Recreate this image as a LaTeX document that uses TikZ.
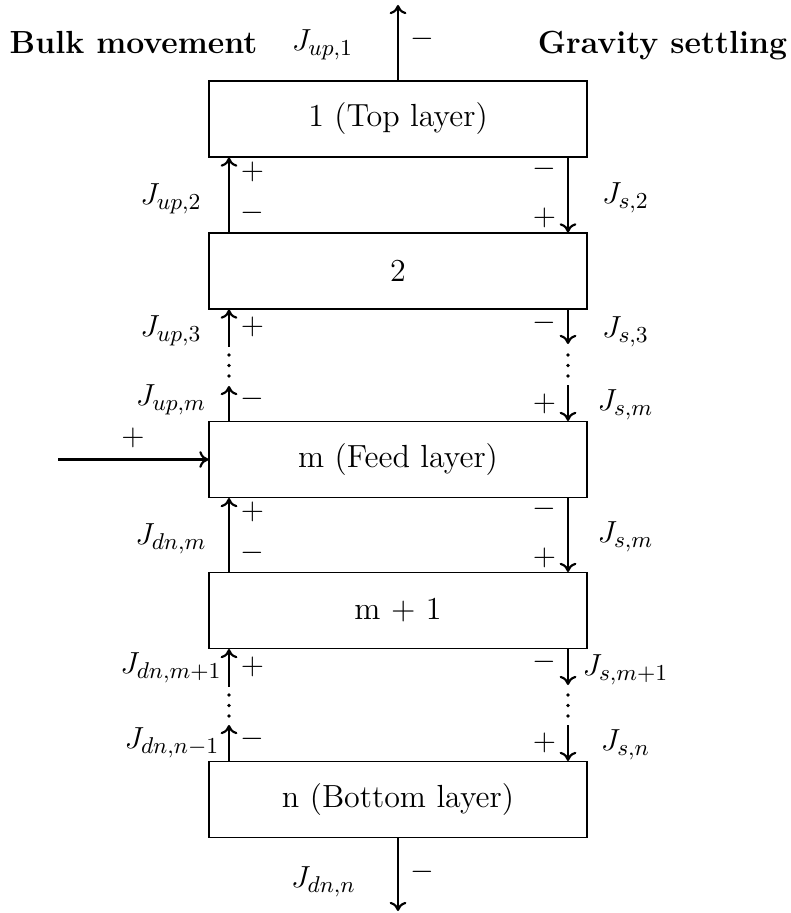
\documentclass[tikz,border=0pt,12pt]{standalone}
\usetikzlibrary{arrows.meta}
\begin{document}
\begin{tikzpicture}[x=0.3937pt,y=-0.3937pt,
  every node/.style={font=\fontsize{12.6}{15}\selectfont},
  layerbox/.style={draw,line width=0.45pt,minimum width=148.8pt,minimum height=29.9pt,inner sep=0pt},
  flow/.style={-{To[length=3.6pt,width=6.6pt]},line width=0.85pt},
  lab/.style={inner sep=0pt},
  title/.style={inner sep=0pt,anchor=base,font=\fontsize{12.6}{15}\selectfont\bfseries},
  dotsty/.style={fill=black}]
\useasboundingbox (0,0) rectangle (790,913);
% x guides
\coordinate (xl) at (229,0);
\coordinate (xr) at (568,0);
% boxes
\node[layerbox] (b1)  at (398,119)   {1 (Top layer)};
\node[layerbox] (b2)  at (398,271)   {2};
\node[layerbox] (bm)  at (398,459.5) {m (Feed layer)};
\node[layerbox] (bm1) at (398,610.5) {m + 1};
\node[layerbox] (bn)  at (398,799.5) {n (Bottom layer)};
% titles
\node[title] (tl) at (133.5,54) {Bulk movement};
\node[title] (tr) at (662.5,54) {Gravity settling};
% top and bottom
\coordinate (topend) at (398,5);
\coordinate (botend) at (398,911);
\draw[flow] (b1.north) -- (topend);
\draw[flow] (bn.south) -- (botend);
\node[lab] (jup1) at (322.5,45) {$J_{up,1}$};
\node[lab] (stop) at (422,39) {$-$};
\node[lab] (jdnn) at (323.5,882) {$J_{dn,n}$};
\node[lab] (sbot) at (422,872) {$-$};
% feed
\coordinate (feed) at (58,459.5);
\draw[flow] (feed) -- (bm.west);
\node[lab] (sfeed) at (133,438) {$+$};
% row 1
\draw[flow] (b2.north -| xl) -- (b1.south -| xl);
\draw[flow] (b1.south -| xr) -- (b2.north -| xr);
\node[lab] (jup2) at (171,199) {$J_{up,2}$};
\node[lab] (js2) at (625.5,198) {$J_{s,2}$};
\node[lab] (s1a) at (252.5,172) {$+$};
\node[lab] (s1b) at (252.5,213) {$-$};
\node[lab] (s1c) at (544.5,169) {$-$};
\node[lab] (s1d) at (544.5,218) {$+$};
% row 2
\coordinate (t2l) at (229,347);
\coordinate (h2l) at (229,386);
\coordinate (h2r) at (568,344);
\coordinate (t2r) at (568,385);
\draw[flow] (t2l) -- (b2.south -| xl);
\draw[flow] (bm.north -| xl) -- (h2l);
\draw[flow] (b2.south -| xr) -- (h2r);
\draw[flow] (t2r) -- (bm.north -| xr);
\foreach \yy in {355,365.5,376} {
  \fill[dotsty] (229,\yy) circle[radius=0.7pt];
  \fill[dotsty] (568,\yy) circle[radius=0.7pt];
}
\node[lab] (jup3) at (171,331) {$J_{up,3}$};
\node[lab] (jupm) at (171,400) {$J_{up,m}$};
\node[lab] (js3) at (625.5,332) {$J_{s,3}$};
\node[lab] (jsm) at (625.5,405) {$J_{s,m}$};
\node[lab] (s2a) at (252.5,327) {$+$};
\node[lab] (s2b) at (252.5,399) {$-$};
\node[lab] (s2c) at (544.5,323) {$-$};
\node[lab] (s2d) at (544.5,404) {$+$};
% row m
\draw[flow] (bm1.north -| xl) -- (bm.south -| xl);
\draw[flow] (bm.south -| xr) -- (bm1.north -| xr);
\node[lab] (jdnm) at (171,539) {$J_{dn,m}$};
\node[lab] (jsm2) at (625.5,537) {$J_{s,m}$};
\node[lab] (s3a) at (252.5,512) {$+$};
\node[lab] (s3b) at (252.5,553) {$-$};
\node[lab] (s3c) at (544.5,509) {$-$};
\node[lab] (s3d) at (544.5,558) {$+$};
% row m+1
\coordinate (t4l) at (229,687);
\coordinate (h4l) at (229,725);
\coordinate (h4r) at (568,685);
\coordinate (t4r) at (568,725);
\draw[flow] (t4l) -- (bm1.south -| xl);
\draw[flow] (bn.north -| xl) -- (h4l);
\draw[flow] (bm1.south -| xr) -- (h4r);
\draw[flow] (t4r) -- (bn.north -| xr);
\foreach \yy in {695,705.5,716} {
  \fill[dotsty] (229,\yy) circle[radius=0.7pt];
  \fill[dotsty] (568,\yy) circle[radius=0.7pt];
}
\node[lab] (jdnm1) at (171,668) {$J_{dn,m+1}$};
\node[lab] (jdnn1) at (172,743) {$J_{dn,n-1}$};
\node[lab] (jsm1) at (625.5,670) {$J_{s,m+1}$};
\node[lab] (jsn) at (625.5,745) {$J_{s,n}$};
\node[lab] (s4a) at (252.5,667) {$+$};
\node[lab] (s4b) at (252.5,739) {$-$};
\node[lab] (s4c) at (544.5,662) {$-$};
\node[lab] (s4d) at (544.5,743) {$+$};
\end{tikzpicture}
\end{document}
